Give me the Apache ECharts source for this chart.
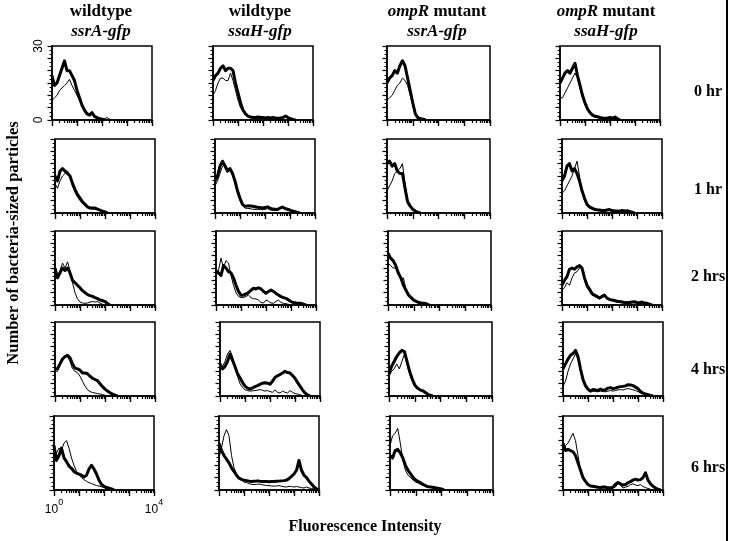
<!DOCTYPE html>
<html><head><meta charset="utf-8">
<script src="https://cdn.jsdelivr.net/npm/echarts@6/dist/echarts.min.js"></script>
<style>html,body{margin:0;padding:0;background:#fff}#c{width:730px;height:541px}</style>
</head><body><div id="c"></div>
<script>
// ---- categories / labels ----
const COL_TITLES_1 = ['wildtype', 'wildtype', '{i|ompR}{b| mutant}', '{i|ompR}{b| mutant}'];
const COL_TITLES_2 = ['ssrA-gfp', 'ssaH-gfp', 'ssrA-gfp', 'ssaH-gfp'];
const ROW_LABELS = ['0 hr', '1 hr', '2 hrs', '4 hrs', '6 hrs'];
const Y_TICK_LABELS = [0, 30];
const X_TICK_EXPONENTS = [0, 4];
const Y_TITLE = 'Number of bacteria-sized particles';
const X_TITLE = 'Fluorescence Intensity';
// histogram bins, log10(fluorescence)
const BINS = [0,0.1,0.2,0.3,0.4,0.5,0.6,0.7,0.8,0.9,1,1.1,1.2,1.3,1.4,1.5,1.6,1.7,1.8,1.9,2,2.1,2.2,2.3,2.4,2.5,2.6,2.7,2.8,2.9,3,3.1,3.2,3.3,3.4,3.5,3.6,3.7,3.8,3.9,4];

// ---- series values (counts), thick and thin histograms ----
const r1c1_thick = [18,14,15,18,21,24,20,20,18,16,12,9,6,4,2.5,2,3,1.5,1,0.5,0.3,0];
const r1c1_thin  = [8,9,10,12,13,14,15,16.5,14,12,10,8,6,4,3,2.5,3,1.5,1,1,0.5,0.5,1,0.3,0];
const r1c2_thick = [16,18,19,21,22,20,21,21,20,15,11,7,4,2.5,1.6,1.2,1,1,1.2,1,1,0.8,1,0.8,1,0.8,0.7,0.8,1,1.6,1,0.5,0.2,0];
const r1c2_thin  = [10,12,15,17,17,16,16,19,16,12,8,5,3.5,2,1.5,1,0.8,0.8,0.7,0.7,0.8,0.6,0.7,0.6,0.6,0.5,0.6,0.7,1,1.8,0.8,0.3,0];
const r1c3_thick = [15,17,18,20,19,22,24,22,17,12,7,2.5,1,0.5,0.3,0];
const r1c3_thin  = [8,9,10,12,14,15,17,16,14,10,6,2.5,1,0.3,0];
const r1c4_thick = [15,17,19,20,19,21,23,18,14,10,7,4.5,3,2,1.5,1.3,1,0.8,0.7,0.8,1,0.8,1.2,0.5,0];
const r1c4_thin  = [9,9,11,13,15,17,19,17,13,9,6,4,2.5,1.8,1.3,1,0.8,0.6,0.5,0.6,0.7,0.6,1,0.3,0];

const r2c1_thick = [15,13,17,18,17,16,15,12,9.5,7.5,6,4.5,3.5,2.5,2,2,2,1.6,1.2,0.8,0.4,0];
const r2c1_thin  = [12,10,13,15,16,17,15,11,8.5,6.5,5,4,3,2.2,1.8,1.6,1.6,1.3,1,0.6,0.3,0];
const r2c2_thick = [13,15,19,21,19,17,18,16,13,9,6,3.5,2.7,2.8,2.9,2.7,2.5,2.3,2.2,2,2.2,2.5,2,1.6,1.5,1.4,2,2.4,1.8,1.5,1.2,0.8,0.5,0.2,0];
const r2c2_thin  = [11,13,16,19,20,18,17,17,12,8,5,3,2,1.8,1.8,1.5,1.5,1.4,1.5,1.3,1.5,1.8,1.3,1,1,1.2,2,2.5,1.8,1.2,0.8,0.5,0.2,0];
const r2c3_thick = [20,21,19,20,17,16,16,10,4.5,2.8,1.5,0.8,0.3,0];
const r2c3_thin  = [9,11,13,16,17,18,20,12,5,2.5,1.2,0.5,0];
const r2c4_thick = [13,15,19,20,17,18,16,13,9,6,3.5,2.5,2,1.5,1.3,1.2,1,1,1.2,1.4,1,0.8,0.8,0.7,1,0.8,0.9,0.6,0.3,0];
const r2c4_thin  = [8,9,11,13,15,18,21,15,9,5,3,2,1.6,1.2,1,0.9,0.8,0.8,1,1.2,0.8,0.6,0.7,0.6,0.8,0.6,0.5,0.3,0];

const r3c1_thick = [15,11,13,15,14,15,13,10,9,8,7,5.8,5,4.2,3.8,3.5,3,2.6,2,1.8,1.4,0.6,0];
const r3c1_thin  = [12,12,14,17,15,17.5,14,9,5,2.5,1.2,0.8,0.7,0.8,1.2,1.4,1.2,1.4,0.8,0.3,0];
const r3c2_thick = [14,13,12,16,15,13.5,13,11,8,5.5,4,4,4.5,5,6,6.8,6.5,7,6.5,5.5,4.7,5.5,6.1,5.5,4.7,4,3.4,3,2.7,2,1.4,1,0.8,0.7,0.7,0.3,0];
const r3c2_thin  = [12,14,19,15,18,17,12,8,5,3.5,3,3,3.5,4,3,2.5,2.5,2,1,0.8,2,1.5,0.8,0.7,1.5,2,1,0.7,0.5,0.3,0];
const r3c3_thick = [21,19,18,16,13,11,8,6,4,3,2,1.5,1,0.8,0.7,0.5,0];
const r3c3_thin  = [17,16,15,15,13,10,11,6,3.5,2.5,1.8,1.2,0.8,0.6,0.4,0];
const r3c4_thick = [8,10,11.5,14.5,15,14.5,15.5,16,15,11,8,6.5,4.7,4,3.5,2.8,3.5,4,2.8,2.3,2,1.8,1.5,1.4,1.2,1,1,1,1.2,1.3,1,0.9,1.2,0.8,0.7,0.3,0];
const r3c4_thin  = [6,7,9,8,11,13,13.5,15,15,10,7,5.5,4,3.5,3,2.5,3,3.5,2.5,2,1.8,1.5,1.2,1,1,0.8,0.8,0.7,1,1,0.8,0.7,0.8,0.5,0.3,0];

const r4c1_thick = [11,11,13,15,16,16.5,15.5,13,11.3,11,10.5,9.3,9.3,9,8,7.2,6.7,6.2,5,3.8,2.8,2,1.3,0.8,0.3,0];
const r4c1_thin  = [10,10,13,15,16,16,14,11,10,9.5,8,6,4,2.5,1.8,1.4,1.2,1,0.8,0.6,0.3,0];
const r4c2_thick = [13,11,12,14,17,14.5,12,9,7.4,5.5,4,3.2,2.8,3.3,3.8,4.2,4.7,5.2,5.4,5.2,4.8,6,7.5,8.2,8.7,9.3,10,9.5,9.3,8.3,7.2,5.5,4,2.5,1.2,0.5,0];
const r4c2_thin  = [11,12,14,17,18.5,16,12,8,5,3.5,2.5,2.2,2,2.1,2.2,2.4,2.6,2.3,2,2.2,1.8,1.5,2.5,1.5,1.2,2,1.5,1.2,2.2,1.5,1,0.8,0.5,0.2,0];
const r4c3_thick = [9,12,14,16,17.5,18.5,18,14,10,7,4.5,3.2,2.5,2.2,1.5,0.8,0.3,0];
const r4c3_thin  = [8,10,11,13,11,14,17,13,9,6,4,3,2.3,1.8,1.2,0.5,0];
const r4c4_thick = [11,13,15,16.5,17.2,18.5,16,11,6.7,4.2,2.8,2,2.6,2.4,2.2,2.8,2.3,2.5,3.2,3.4,3,3.2,3.6,3.8,3.9,4.1,4.6,4.5,4.2,3.6,3,1.8,1.2,0.8,0.5,0.2,0];
const r4c4_thin  = [4,6,10,13,15,17,15,10,6,3.5,2.2,1.6,2,1.8,1.7,2,1.8,1.7,2,2.2,2,2.2,2.5,2.6,2.4,2.8,3,2.8,2.5,2.2,1.8,1.2,0.8,0.4,0];

const r5c1_thick = [18,12,14,17,13,11.5,9.7,8.8,7.5,6.8,6.4,6,5.3,6,8.5,10,8.5,6.5,4,2.2,1.5,1,0.8,0.4,0];
const r5c1_thin  = [13,15,17,16,19,20,17,13,10,7.5,6,5,4.2,3.5,3,2.6,2.2,1.8,1.6,1.3,1,0.8,0.5,0.2,0];
const r5c2_thick = [19,16,14,12.5,11,9,7.5,6,4.8,4.3,4,3.8,3.6,3.4,3.5,3.6,3.6,3.4,3.4,3.4,3.3,3.4,3.4,3.5,3.6,3.7,3.8,4,4.6,5.5,6.5,8,12,8,6,5,3.6,2.4,1.2,0.5,0];
const r5c2_thin  = [13,17,22,24.5,22,14,9,6.5,5,4,3.2,3,2.6,2.3,2.2,2.3,2.4,2.2,2,1.8,1.8,1.6,1.6,1.6,1.8,1.5,1.3,1.2,1.5,1.4,1.2,1.4,1.2,1,0.8,1.2,0.8,0.6,0.4,0.2,0];
const r5c3_thick = [14,13,16,16.5,15,13,10,8,6.5,5,4,3.4,2.8,2.2,1.6,1.3,1.2,1,0.8,0.6,0.4,0];
const r5c3_thin  = [18,22,23,25,19,12,8,6,5,4,3.2,2.8,2.2,1.8,1.5,1.2,1,0.8,0.6,0.3,0];
const r5c4_thick = [19,16,16.5,16,15.5,14,11,8,5,3.5,2.2,1.6,1.5,1.3,1.1,1,1.2,1.2,0.6,0.8,1.2,2.3,3,2.5,2,2.2,3,3.4,4,4.4,4,4.2,5,7,4,2.5,1.5,0.8,0.3,0];
const r5c4_thin  = [15,18,19,21,23,20,14,8,5,3,2,1.5,1.2,1,1,1,0.8,0.8,1.3,1.2,0.8,1.2,2.8,2,0.8,1.2,1.5,2.2,2.5,2,1.8,2.2,1.4,1,0.6,0.3,0];

const PANELS = [
  [[r1c1_thick,r1c1_thin],[r1c2_thick,r1c2_thin],[r1c3_thick,r1c3_thin],[r1c4_thick,r1c4_thin]],
  [[r2c1_thick,r2c1_thin],[r2c2_thick,r2c2_thin],[r2c3_thick,r2c3_thin],[r2c4_thick,r2c4_thin]],
  [[r3c1_thick,r3c1_thin],[r3c2_thick,r3c2_thin],[r3c3_thick,r3c3_thin],[r3c4_thick,r3c4_thin]],
  [[r4c1_thick,r4c1_thin],[r4c2_thick,r4c2_thin],[r4c3_thick,r4c3_thin],[r4c4_thick,r4c4_thin]],
  [[r5c1_thick,r5c1_thin],[r5c2_thick,r5c2_thin],[r5c3_thick,r5c3_thin],[r5c4_thick,r5c4_thin]]
];

// ---- layout (pixels) ----
const ROW_TOP = [46, 139, 231, 322, 416];
const PANEL_H = 74;
const COL_LEFT = [[52,55,55,55,54],[213,215,216,220,219],[387,387,388,389,390],[560,562,562,563,563]];
const COL_W = [100, 100, 103, 100];
const COL_CENTER = [101, 260, 437, 606];
const ROW_LABEL_Y = [92, 190, 277, 370, 468];

const SERIF = '"Liberation Serif","DejaVu Serif",serif';
const SANS = '"Liberation Sans","DejaVu Sans",sans-serif';

const MINOR_X = [];
for (let d = 0; d < 4; d++) for (let k = 2; k <= 9; k++) MINOR_X.push(d + Math.log10(k));
const MAJOR_X = [0, 1, 2, 3, 4];

const grids = [], xAxes = [], yAxes = [], series = [];
for (let r = 0; r < 5; r++) {
  for (let c = 0; c < 4; c++) {
    const g = r * 4 + c;
    grids.push({left: COL_LEFT[c][r], top: ROW_TOP[r], width: COL_W[c], height: PANEL_H,
      show: true, borderColor: '#000', borderWidth: 1.5, backgroundColor: 'transparent'});
    xAxes.push({gridIndex: g, type: 'value', min: 0, max: 4, position: 'bottom',
      axisLine: {show: true, onZero: false, lineStyle: {color: '#000', width: 1.5}},
      axisTick: {show: true, customValues: MINOR_X, length: 3, lineStyle: {color: '#000', width: 1.2}},
      axisLabel: {show: false}, splitLine: {show: false}});
    const lab = (r === 4 && c === 0);
    xAxes.push({gridIndex: g, type: 'value', min: 0, max: 4, position: 'bottom',
      axisLine: {show: false, onZero: false},
      axisTick: {show: true, customValues: MAJOR_X, length: 6, lineStyle: {color: '#000', width: 1.4}},
      axisLabel: lab ? {show: true, customValues: X_TICK_EXPONENTS, margin: 8,
        formatter: v => '{n|10}{s|' + v + '}',
        rich: {n: {fontFamily: SANS, fontSize: 12, color: '#000', verticalAlign: 'bottom', lineHeight: 18},
               s: {fontFamily: SANS, fontSize: 9, color: '#000', verticalAlign: 'top', lineHeight: 18}}}
        : {show: false},
      splitLine: {show: false}});
    const ylab = (r === 0 && c === 0);
    yAxes.push({gridIndex: g, type: 'value', min: 0, max: 30, interval: 5,
      axisLine: {show: true, onZero: false, lineStyle: {color: '#000', width: 1.5}},
      axisTick: {show: true, length: 4.5, lineStyle: {color: '#000', width: 1.2}},
      minorTick: {show: true, splitNumber: 3, length: 2.5, lineStyle: {color: '#000', width: 1}},
      axisLabel: ylab ? {show: true, customValues: Y_TICK_LABELS, rotate: 90, margin: 7,
        fontFamily: SANS, fontSize: 12, color: '#000'} : {show: false},
      splitLine: {show: false}, minorSplitLine: {show: false}});
    const [thick, thin] = PANELS[r][c];
    series.push({type: 'line', xAxisIndex: 2 * g, yAxisIndex: g, symbol: 'none', silent: true,
      data: thick.map((v, i) => [BINS[i], v]), lineStyle: {color: '#000', width: 3, join: 'round'}, z: 2});
    series.push({type: 'line', xAxisIndex: 2 * g, yAxisIndex: g, symbol: 'none', silent: true,
      data: thin.map((v, i) => [BINS[i], v]), lineStyle: {color: '#000', width: 1}, z: 3});
  }
}

const richTitle = {
  i: {fontFamily: SERIF, fontSize: 17, fontWeight: 'bold', fontStyle: 'italic', fill: '#000'},
  b: {fontFamily: SERIF, fontSize: 17, fontWeight: 'bold', fill: '#000'}
};
const elements = [];
for (let c = 0; c < 4; c++) {
  elements.push({type: 'text', x: COL_CENTER[c], y: 12, style: {text: COL_TITLES_1[c].indexOf('{') === 0 ? COL_TITLES_1[c] : '{b|' + COL_TITLES_1[c] + '}',
    rich: richTitle, align: 'center', verticalAlign: 'middle', fill: '#000'}});
  elements.push({type: 'text', x: COL_CENTER[c], y: 32, style: {text: COL_TITLES_2[c],
    font: 'italic bold 17px ' + SERIF, align: 'center', verticalAlign: 'middle', fill: '#000'}});
}
for (let r = 0; r < 5; r++) {
  elements.push({type: 'text', x: 708, y: ROW_LABEL_Y[r], style: {text: ROW_LABELS[r],
    font: 'bold 16px ' + SERIF, align: 'center', verticalAlign: 'middle', fill: '#000'}});
}
elements.push({type: 'text', x: 14, y: 243, rotation: Math.PI / 2, style: {text: Y_TITLE,
  font: 'bold 16.5px ' + SERIF, align: 'center', verticalAlign: 'middle', fill: '#000'}});
elements.push({type: 'text', x: 365, y: 527, style: {text: X_TITLE,
  font: 'bold 16px ' + SERIF, align: 'center', verticalAlign: 'middle', fill: '#000'}});
elements.push({type: 'line', shape: {x1: 727, y1: 0, x2: 727, y2: 541}, style: {stroke: '#000', lineWidth: 2}});

const chart = echarts.init(document.getElementById('c'), null, {renderer: 'canvas'});
chart.setOption({
  animation: false,
  backgroundColor: '#fff',
  grid: grids, xAxis: xAxes, yAxis: yAxes, series: series,
  graphic: {elements: elements}
});
</script></body></html>
